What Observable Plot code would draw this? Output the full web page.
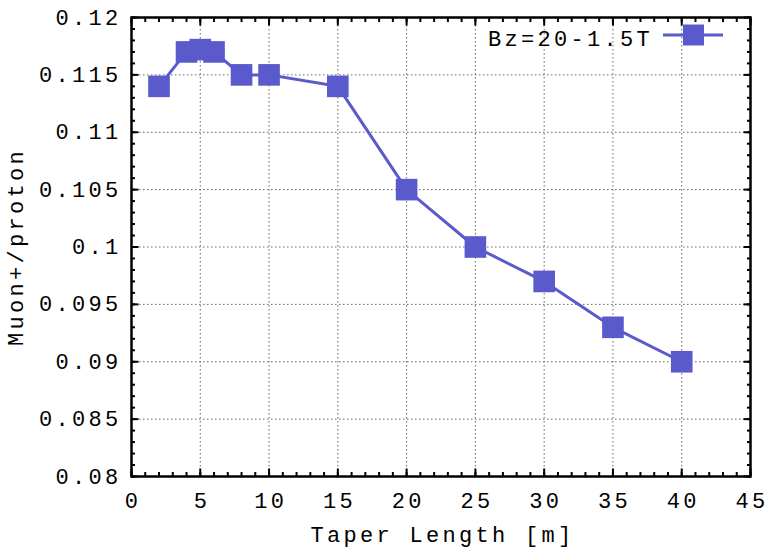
<!DOCTYPE html>
<html>
<head>
<meta charset="utf-8">
<script src="https://cdn.jsdelivr.net/npm/d3@7"></script>
<script src="https://cdn.jsdelivr.net/npm/@observablehq/plot@0.6"></script>
<style>
  html, body { margin: 0; padding: 0; background: #fff; }
  #chart { width: 776px; height: 548px; }
</style>
</head>
<body>
<div id="chart"></div>
<script>
// Data
const taperLength = [2, 4, 5, 6, 8, 10, 15, 20, 25, 30, 35, 40];
const muonPerProton = [0.114, 0.117, 0.1172, 0.117, 0.115, 0.115, 0.114, 0.105, 0.100, 0.097, 0.093, 0.090];
const seriesName = "Bz=20-1.5T";
const xTicks = [0, 5, 10, 15, 20, 25, 30, 35, 40, 45];
const yTicks = [0.08, 0.085, 0.09, 0.095, 0.1, 0.105, 0.11, 0.115, 0.12];
const xMinorTicks = d3.range(0, 46, 1);
const yMinorTicks = d3.range(80, 121, 1).map(v => v / 1000);

const color = "#5a5acd";
const font = "'Courier New', 'Nimbus Mono PS', 'Nimbus Mono L', FreeMono, Courier, 'Liberation Mono', monospace";
const data = taperLength.map((x, i) => ({x, y: muonPerProton[i]}));
const fmtY = d => String(+d.toFixed(3));

const W = 776, H = 548;
const mL = 131, mR = 26, mT = 17, mB = 72;

const chart = Plot.plot({
  width: W,
  height: H,
  marginLeft: mL,
  marginRight: mR,
  marginTop: mT,
  marginBottom: mB,
  style: {fontFamily: font, fontSize: "22px", color: "#000", background: "#fff", overflow: "visible"},
  x: {domain: [0, 45]},
  y: {domain: [0.08, 0.12]},
  marks: [
    Plot.gridX(xTicks, {stroke: "#666", strokeOpacity: 1, strokeWidth: 1, strokeDasharray: "1.5,2.5"}),
    Plot.gridY(yTicks, {stroke: "#666", strokeOpacity: 1, strokeWidth: 1, strokeDasharray: "1.5,2.5"}),
    // tick labels
    Plot.axisX(xTicks, {anchor: "bottom", tickSize: 0, tickPadding: 16, label: null, fontSize: 22, dx: 1.6}),
    Plot.axisY(yTicks, {anchor: "left", tickSize: 0, tickPadding: 10, label: null, tickFormat: fmtY, fontSize: 22}),
    // inward ticks, major
    Plot.axisX(xTicks, {anchor: "bottom", tickSize: -7.5, tickFormat: () => "", label: null, strokeWidth: 2}),
    Plot.axisX(xTicks, {anchor: "top", tickSize: -7.5, tickFormat: () => "", label: null, strokeWidth: 2}),
    Plot.axisY(yTicks, {anchor: "left", tickSize: -7.5, tickFormat: () => "", label: null, strokeWidth: 2}),
    Plot.axisY(yTicks, {anchor: "right", tickSize: -7.5, tickFormat: () => "", label: null, strokeWidth: 2}),
    // inward ticks, minor
    Plot.axisX(xMinorTicks, {anchor: "bottom", tickSize: -4, tickFormat: () => "", label: null, strokeWidth: 2}),
    Plot.axisX(xMinorTicks, {anchor: "top", tickSize: -4, tickFormat: () => "", label: null, strokeWidth: 2}),
    Plot.axisY(yMinorTicks, {anchor: "left", tickSize: -4, tickFormat: () => "", label: null, strokeWidth: 2}),
    Plot.axisY(yMinorTicks, {anchor: "right", tickSize: -4, tickFormat: () => "", label: null, strokeWidth: 2}),
    Plot.frame({stroke: "#000", strokeWidth: 2.5}),
    // axis titles
    Plot.text(["Taper Length [m]"], {frameAnchor: "bottom", dy: 58, dx: 1.6, textAnchor: "middle", lineAnchor: "middle", fontSize: 22, fill: "#000"}),
    Plot.text(["Muon+/proton"], {frameAnchor: "left", dx: -116, rotate: -90, textAnchor: "middle", lineAnchor: "middle", fontSize: 22, fill: "#000"}),
    // series
    Plot.line(data, {x: "x", y: "y", stroke: color, strokeWidth: 3}),
    Plot.dot(data, {x: "x", y: "y", symbol: "square", r: 12.2, fill: color, stroke: "none"})
  ]
});

document.getElementById("chart").appendChild(chart);

// letter spacing on all texts
d3.select(chart).selectAll("text").style("letter-spacing", "3.3px");

// legend (inside plot, top right)
const svg = d3.select(chart);
const lg = svg.append("g");
lg.append("text")
  .attr("x", 653).attr("y", 46)
  .attr("text-anchor", "end")
  .style("font-family", font).style("font-size", "22px").style("letter-spacing", "3.3px")
  .attr("fill", "#000")
  .text(seriesName);
lg.append("line").attr("x1", 663).attr("x2", 723).attr("y1", 35).attr("y2", 35)
  .attr("stroke", color).attr("stroke-width", 3);
lg.append("rect").attr("x", 683).attr("y", 24.5).attr("width", 21).attr("height", 21)
  .attr("fill", color);
</script>
</body>
</html>
